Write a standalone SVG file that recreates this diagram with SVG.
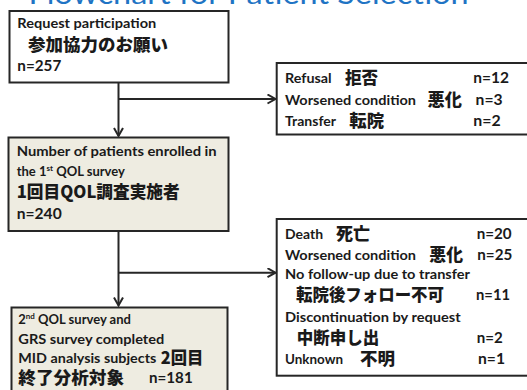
<svg xmlns="http://www.w3.org/2000/svg" width="527" height="390" viewBox="0 0 527 390">
<style>
.box{stroke:#262626;stroke-width:2}
.w{fill:#ffffff}
.b{fill:#eeece1}
.t{font-family:"Lato","Noto Sans CJK JP",sans-serif;font-weight:700;font-size:13px;fill:#1a1a1a}
.n{font-family:"Lato","Noto Sans CJK JP",sans-serif;font-weight:700;font-size:15px;fill:#1a1a1a}
.j{font-family:"Noto Sans CJK JP",sans-serif;font-weight:900;font-size:17px;fill:#1a1a1a}
.title{font-family:"Lato","Open Sans",sans-serif;font-weight:400;font-size:29px;fill:#1f74c4}
.c{stroke:#262626;stroke-width:2;fill:none}
</style>
<defs>
<marker id="arr" markerUnits="userSpaceOnUse" markerWidth="12" markerHeight="12" refX="9" refY="5" orient="auto">
<path d="M1,0.5 L9,5 L1,9.5" fill="none" stroke="#262626" stroke-width="2"/>
</marker>
</defs>
<text class="title" x="28.6" y="3.5" textLength="440" lengthAdjust="spacingAndGlyphs">Flowchart for Patient Selection</text>
<g id="connectors">
<path class="c" d="M118.5,82.5 V136" marker-end="url(#arr)"/>
<path class="c" d="M118.5,99 H275.5" marker-end="url(#arr)"/>
<path class="c" d="M118.5,231 V305.5" marker-end="url(#arr)"/>
<path class="c" d="M118.5,272.7 H275.5" marker-end="url(#arr)"/>
</g>
<g id="request">
<rect class="box w" x="9.5" y="11" width="219" height="71.5"/>
<text class="t" x="17.3" y="27.7" textLength="139" lengthAdjust="spacingAndGlyphs">Request participation</text>
<text class="j" x="28" y="50.5" textLength="140" lengthAdjust="spacingAndGlyphs">参加協力のお願い</text>
<text class="n" x="17.3" y="71" font-size="17" textLength="44" lengthAdjust="spacingAndGlyphs">n=257</text>
</g>
<g id="enrolled">
<rect class="box b" x="8.5" y="137.5" width="220" height="93.5"/>
<text class="t" x="16.7" y="155.7" textLength="200" lengthAdjust="spacingAndGlyphs">Number of patients enrolled in</text>
<text class="t" x="16.7" y="176">the 1<tspan font-size="8" dy="-5">st</tspan><tspan dy="5"> QOL survey</tspan></text>
<text class="j" x="16.7" y="198" textLength="163" lengthAdjust="spacingAndGlyphs">1回目QOL調査実施者</text>
<text class="n" x="16.7" y="219" font-size="17" textLength="45" lengthAdjust="spacingAndGlyphs">n=240</text>
</g>
<g id="completed">
<rect class="box b" x="11.5" y="307.5" width="216" height="90"/>
<text class="t" x="18.3" y="324">2<tspan font-size="8" dy="-5">nd</tspan><tspan dy="5"> QOL survey and</tspan></text>
<text class="t" x="18.3" y="344" textLength="146" lengthAdjust="spacingAndGlyphs">GRS survey completed</text>
<text class="t" x="18.3" y="363.3" textLength="138" lengthAdjust="spacingAndGlyphs">MID analysis subjects</text>
<text class="j" x="160.7" y="364" textLength="42.6" lengthAdjust="spacingAndGlyphs">2回目</text>
<text class="j" x="18.3" y="384" textLength="105.7" lengthAdjust="spacingAndGlyphs">終了分析対象</text>
<text class="n" x="149" y="383.3" textLength="43.7" lengthAdjust="spacingAndGlyphs">n=181</text>
</g>
<g id="excluded1">
<rect class="box w" x="276.7" y="63" width="270" height="71.5"/>
<text class="t" x="285" y="83.3" textLength="46.7" lengthAdjust="spacingAndGlyphs">Refusal</text>
<text class="j" x="345" y="84" textLength="33" lengthAdjust="spacingAndGlyphs">拒否</text>
<text class="n" x="473.3" y="83.3" textLength="35.7" lengthAdjust="spacingAndGlyphs">n=12</text>
<text class="t" x="285" y="104.7" textLength="131" lengthAdjust="spacingAndGlyphs">Worsened condition</text>
<text class="j" x="427.6" y="105.5" textLength="34.4" lengthAdjust="spacingAndGlyphs">悪化</text>
<text class="n" x="475.6" y="104.7" textLength="27" lengthAdjust="spacingAndGlyphs">n=3</text>
<text class="t" x="285" y="126" textLength="51" lengthAdjust="spacingAndGlyphs">Transfer</text>
<text class="j" x="349.3" y="126.8" textLength="34.7" lengthAdjust="spacingAndGlyphs">転院</text>
<text class="n" x="473.3" y="126" textLength="27.4" lengthAdjust="spacingAndGlyphs">n=2</text>
</g>
<g id="excluded2">
<rect class="box w" x="276.7" y="219" width="270" height="156.7"/>
<text class="t" x="285" y="239" textLength="38" lengthAdjust="spacingAndGlyphs">Death</text>
<text class="j" x="336" y="239.8" textLength="34" lengthAdjust="spacingAndGlyphs">死亡</text>
<text class="n" x="476.7" y="239" textLength="35" lengthAdjust="spacingAndGlyphs">n=20</text>
<text class="t" x="285" y="260" textLength="131" lengthAdjust="spacingAndGlyphs">Worsened condition</text>
<text class="j" x="429.3" y="260.8" textLength="33.7" lengthAdjust="spacingAndGlyphs">悪化</text>
<text class="n" x="477.3" y="260" textLength="35" lengthAdjust="spacingAndGlyphs">n=25</text>
<text class="t" x="285" y="279" textLength="185" lengthAdjust="spacingAndGlyphs">No follow-up due to transfer</text>
<text class="j" x="296" y="300.8" textLength="148" lengthAdjust="spacingAndGlyphs">転院後フォロー不可</text>
<text class="n" x="476" y="300" textLength="34" lengthAdjust="spacingAndGlyphs">n=11</text>
<text class="t" x="285" y="321.7" textLength="175.7" lengthAdjust="spacingAndGlyphs">Discontinuation by request</text>
<text class="j" x="296.7" y="344" textLength="82.6" lengthAdjust="spacingAndGlyphs">中断申し出</text>
<text class="n" x="476.7" y="343.3" textLength="26" lengthAdjust="spacingAndGlyphs">n=2</text>
<text class="t" x="285" y="364.3" textLength="58" lengthAdjust="spacingAndGlyphs">Unknown</text>
<text class="j" x="360" y="365" textLength="35" lengthAdjust="spacingAndGlyphs">不明</text>
<text class="n" x="478" y="364.3" textLength="27" lengthAdjust="spacingAndGlyphs">n=1</text>
</g>
</svg>
